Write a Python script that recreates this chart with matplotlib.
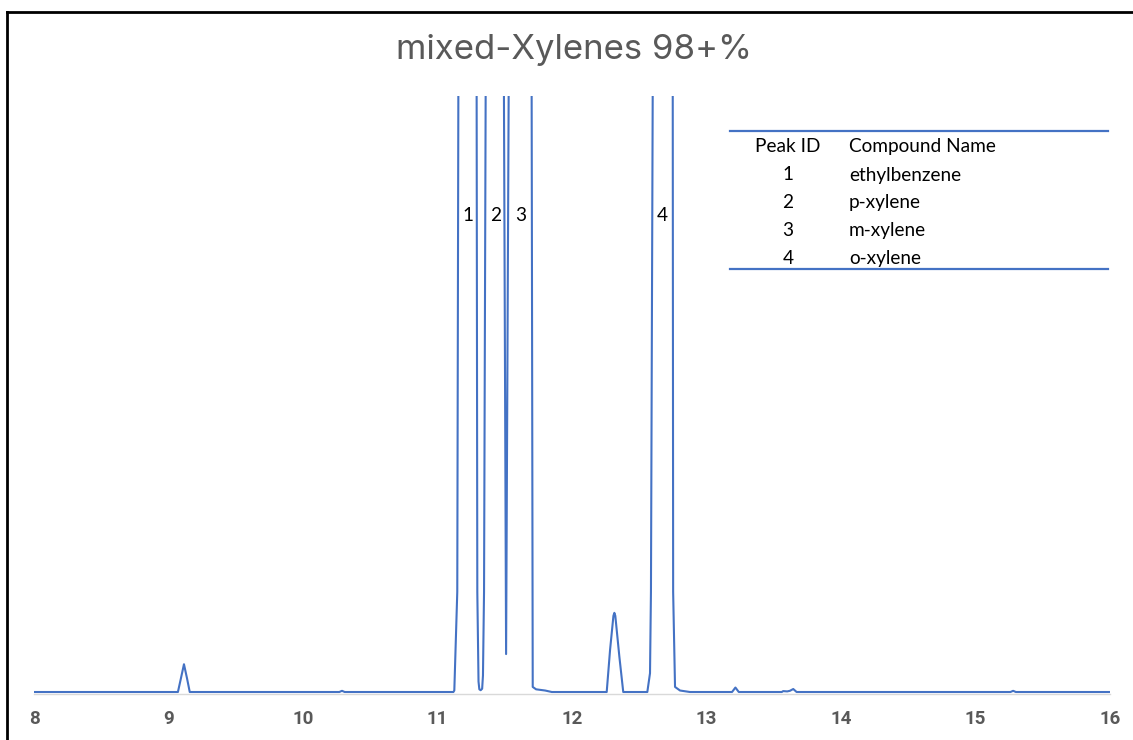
import matplotlib.pyplot as plt
from matplotlib.lines import Line2D

# chromatogram trace (retention time in min, signal in % of plot height)
rt = [8.00, 9.07, 9.092, 9.115, 9.138, 9.158, 10.27, 10.29, 10.31,
      11.118, 11.125, 11.147, 11.155, 11.223, 11.291, 11.296, 11.305, 11.311, 11.321,
      11.332, 11.338, 11.346, 11.358, 11.427, 11.494, 11.51, 11.529, 11.615, 11.700,
      11.708, 11.733, 11.80, 11.85,
      12.258, 12.283, 12.308, 12.315, 12.322, 12.352, 12.381,
      12.560, 12.580, 12.587, 12.600, 12.674, 12.749, 12.752, 12.766, 12.803, 12.877,
      13.19, 13.215, 13.24, 13.56, 13.57, 13.60, 13.62, 13.645, 13.67,
      15.26, 15.28, 15.30, 16.00]
signal = [0.25, 0.25, 2.5, 4.9, 2.5, 0.25, 0.25, 0.45, 0.25,
          0.25, 0.5, 17, 100, 300, 100, 17, 2, 0.7, 0.55,
          0.8, 3, 17, 100, 300, 100, 6.6, 100, 300, 100,
          1.1, 0.7, 0.5, 0.25,
          0.25, 7.3, 13.0, 13.5, 13.0, 6.2, 0.25,
          0.25, 3.4, 17, 100, 300, 100, 17, 1.1, 0.5, 0.25,
          0.25, 1.0, 0.25, 0.25, 0.4, 0.35, 0.45, 0.75, 0.25,
          0.25, 0.45, 0.25, 0.25]

peak_ids = [1, 2, 3, 4]
peak_rt = [11.227, 11.433, 11.621, 12.674]
compounds = ["ethylbenzene", "p-xylene", "m-xylene", "o-xylene"]
x_ticks = [8, 9, 10, 11, 12, 13, 14, 15, 16]

W, H = 1133, 740
fig = plt.figure(figsize=(W / 100, H / 100), dpi=100)

# plot area
ax = fig.add_axes([34 / W, 1 - 693.5 / H, (1110 - 34) / W, (693.5 - 96) / H])
ax.plot(rt, signal, color="#4472C4", lw=1.5, solid_joinstyle="round")
ax.set_xlim(8, 16)
ax.set_ylim(0, 100)
for side in ["top", "left", "right"]:
    ax.spines[side].set_visible(False)
ax.spines["bottom"].set_color("#D9D9D9")
ax.spines["bottom"].set_linewidth(1.0)
ax.set_yticks([])
ax.set_xticks(x_ticks)
ax.set_xticklabels([str(t) for t in x_ticks])
ax.tick_params(axis="x", length=0, pad=12, labelsize=13.5, labelcolor="#595959")
for lbl in ax.get_xticklabels():
    lbl.set_fontweight("bold")
    lbl.set_family("Roboto")

# peak numbers
for pid, t in zip(peak_ids, peak_rt):
    ax.text(t, 80, str(pid), ha="center", va="center", fontsize=13.7, family="Lato", color="black")

# title
fig.text(574 / W, 1 - 50 / H, "mixed-Xylenes 98+%", ha="center", va="center",
         fontsize=25, family="Inter", color="#595959")

# compound table
for ypx in [130.7, 269.3]:
    fig.add_artist(Line2D([730 / W, 1108 / W], [1 - ypx / H, 1 - ypx / H], color="#4472C4", lw=1.6))
fig.text(788 / W, 1 - 146.7 / H, "Peak ID", ha="center", va="center", fontsize=13.7, family="Lato")
fig.text(849 / W, 1 - 146.7 / H, "Compound Name", ha="left", va="center", fontsize=13.7, family="Lato")
for i, (pid, name) in enumerate(zip(peak_ids, compounds)):
    ypx = 175 + 27.8 * i
    fig.text(788 / W, 1 - ypx / H, str(pid), ha="center", va="center", fontsize=13.7, family="Lato")
    fig.text(849 / W, 1 - ypx / H, name, ha="left", va="center", fontsize=13.7, family="Lato")

# screenshot frame (left and top edges)
fig.add_artist(Line2D([7 / W, 7 / W], [0, 1 - 12 / H], color="black", lw=2))
fig.add_artist(Line2D([7 / W, 1], [1 - 12 / H, 1 - 12 / H], color="black", lw=2))

fig.savefig("out.png", dpi=100)
